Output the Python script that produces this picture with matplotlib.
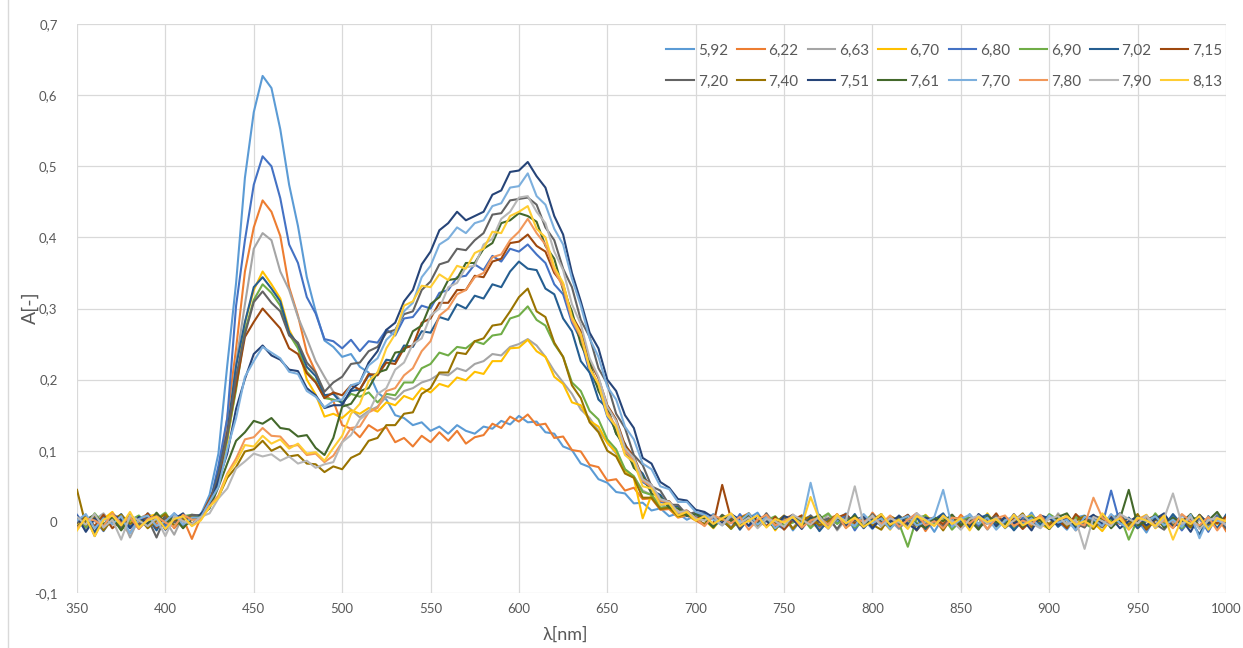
import numpy as np
import matplotlib.pyplot as plt
from matplotlib.ticker import FuncFormatter, MultipleLocator
from matplotlib.lines import Line2D

plt.rcParams['font.family'] = ['Lato', 'DejaVu Sans']

# wavelength grid (nm), one reading every 5 nm
wavelength = np.arange(350, 1001, 5)

# absorbance readings in milli-units (A * 1000)
# each list: 350-415 nm | 420-700 nm | 705-1000 nm
a592 = [4, -12, 8, -5, 10, -3, 6, -8, 12, 2, -6, 9, 3, 7,
        10, 38, 96, 220, 336, 484, 576, 627, 610, 552, 474, 416, 344, 296, 255, 246, 232, 236, 218, 210,
        182, 172, 150, 146, 136, 140, 128, 134, 124, 136, 128, 124, 134, 131, 142, 137, 149, 140, 141, 126,
        124, 106, 101, 82, 77, 60, 55, 42, 40, 26, 27, 16, 19, 8, 12, 3, 9,
        2, 11, -4, 6, -9, 5, 13, -6, 0, 8, -12, 4, -3, 9, -7, 2, 12, -5, 3, -10, 6, 1, -8, 10, -2, 5, -14, 7, 3, -6,
        11, -4, 0, 8, -9, 4, -2, 13, -7, 5, 1, -11, 6, 9, -3, -8, 4, 12, -5, 2, -15, 7, 3, -6, 10, -1, 5, -9, 8, 2]
a622 = [-8, 6, -14, 3, 9, -6, -15, 4, 11, -3, 7, -9, 5, -24,
        6, 28, 61, 146, 244, 352, 414, 452, 436, 402, 330, 290, 238, 211, 178, 170, 136, 131, 119, 136,
        128, 133, 112, 118, 106, 121, 112, 126, 114, 128, 110, 119, 122, 138, 132, 148, 141, 151, 136, 138,
        118, 120, 101, 99, 80, 77, 58, 60, 44, 48, 32, 33, 17, 18, 6, 9, 2,
        -5, 8, 3, -10, 6, 12, -3, 7, -8, 4, 10, -6, 1, -11, 5, 9, -4, 2, -7, 13, -2, 6, -9, 3, 8, -13, 4, 0, -6, 10,
        -3, 5, -10, 7, 2, -5, 11, -8, 3, 6, -4, 9, -12, 1, 7, -6, 3, -3, 5, -9, 4, 8, -7, 2, -11, 6, 3, -4, 9, -13]
a663 = [6, -10, 3, 12, -4, 8, -22, 5, 10, -7, 2, -18, 9, -3,
        9, 23, 63, 116, 224, 306, 384, 406, 396, 352, 326, 288, 258, 226, 204, 183, 168, 158, 147, 156,
        162, 176, 172, 184, 188, 196, 200, 208, 206, 216, 212, 222, 226, 236, 234, 246, 250, 257, 248, 232,
        212, 196, 180, 158, 146, 128, 112, 96, 74, 64, 44, 38, 24, 20, 10, 9, 3,
        7, -3, 10, -8, 4, 1, -6, 12, -2, 5, -9, 8, 3, -5, 11, -12, 4, 6, -3, 9, -7, 2, -10, 5, 8, -4, 1, -8, 10, -6,
        3, 7, -11, 4, -2, 9, -5, 0, 6, -9, 12, -3, 5, -7, 2, 8, -6, 4, -10, 1, 7, -4, 9, -2, 5, -8, 3, -5, 10, -3]
a670 = [-6, 9, -18, 4, 14, -5, 2, -9, 7, 11, -4, 6, -8, 3,
        7, 29, 52, 114, 190, 280, 326, 352, 334, 314, 270, 246, 200, 179, 148, 152, 146, 157, 152, 160,
        155, 168, 164, 177, 172, 188, 182, 194, 190, 203, 199, 211, 208, 226, 226, 244, 245, 256, 240, 232,
        204, 194, 168, 164, 142, 134, 111, 98, 72, 62, 5, 38, 19, 20, 7, 11, 2,
        3, -9, 6, 10, -4, 2, -7, 8, -12, 5, 1, 9, -6, 4, -3, 11, -8, 0, 7, -5, 3, -11, 8, 2, -6, 10, -2, 4, -9, 6,
        1, -7, 12, -4, 3, -8, 5, 9, -3, -10, 6, 2, -5, 8, -1, -13, 4, 7, -6, 3, 10, -9, 1, 5, -4, 8, -7, 2, -3, 6]
a680 = [10, -7, 3, -13, 6, -2, 9, -10, 4, 8, -5, 12, 1, -4,
        11, 24, 79, 146, 304, 396, 474, 514, 500, 455, 390, 364, 316, 293, 257, 254, 244, 256, 240, 254,
        252, 270, 262, 286, 288, 304, 300, 322, 326, 344, 346, 362, 354, 374, 366, 384, 380, 390, 376, 364,
        334, 320, 280, 256, 210, 188, 148, 130, 96, 82, 56, 48, 28, 25, 13, 14, 5,
        -4, 7, 2, -9, 11, -6, 3, 8, -3, -10, 5, 1, 9, -7, 4, -2, 10, -12, 6, 3, -5, 8, -8, 2, 12, -4, -1, 7, -9, 5,
        3, -6, 9, -3, 0, -11, 6, 4, -7, 10, -2, 5, -8, 1, 7, -5, 44, -2, -9, 2, -6, 3, -3, 8, -12, 4, 6, -14, 9, -5]
a690 = [5, -8, 12, -3, 7, -11, 2, 9, -5, 4, 13, -6, 8, 10,
        6, 27, 55, 118, 186, 268, 312, 334, 322, 304, 264, 244, 211, 198, 174, 172, 168, 180, 176, 182,
        168, 180, 178, 196, 196, 216, 222, 238, 234, 246, 244, 254, 250, 262, 264, 286, 290, 303, 284, 276,
        250, 232, 196, 184, 156, 144, 116, 102, 74, 64, 42, 38, 20, 21, 9, 11, 4,
        9, -4, 6, -10, 3, 11, -7, 2, 8, -5, -1, 7, -9, 4, 12, -3, 6, -8, 1, 10, -6, 3, -2, -35, 5, 9, -4, 7, -11, 2,
        6, -3, 10, -7, 4, -9, 1, 8, -5, 11, 3, -6, 7, -2, -10, 5, 2, 9, -25, 4, -7, 12, -3, 6, -9, 1, 8, -4, 3, -8]
a702 = [-10, 4, -15, 8, -2, 11, -7, 3, 6, -12, 9, 2, -5, 7,
        10, 26, 69, 126, 219, 281, 330, 344, 328, 310, 266, 250, 218, 205, 178, 180, 166, 184, 186, 206,
        208, 228, 226, 248, 246, 268, 266, 288, 284, 306, 300, 318, 314, 334, 330, 352, 366, 356, 354, 328,
        320, 286, 268, 226, 210, 172, 160, 124, 110, 80, 68, 44, 38, 20, 22, 8, 11,
        12, -6, 3, 9, -11, 5, -2, 8, -8, 1, 10, -4, 6, -13, 2, 7, -5, 11, -9, 4, 0, -7, 9, -3, 6, -10, 3, 12, -6, 1,
        -8, 5, 10, -4, 7, -12, 2, 6, -3, 9, -7, 4, -11, 8, 1, -5, 10, -2, 6, -9, 3, 7, -6, 11, -4, 2, -18, 8, -9, 10]
a715 = [3, 8, -6, 10, -9, 2, 7, -4, 12, -8, 5, 1, 9, -3,
        7, 32, 57, 124, 191, 260, 281, 300, 286, 272, 244, 236, 209, 196, 174, 182, 178, 192, 186, 208,
        206, 224, 222, 244, 248, 280, 286, 308, 308, 326, 326, 346, 344, 366, 370, 392, 394, 404, 388, 380,
        350, 334, 290, 268, 226, 202, 164, 144, 108, 92, 62, 52, 30, 29, 14, 16, 6,
        5, -3, 52, 4, -8, 10, 2, -6, 7, -11, 3, 9, -4, 1, -9, 6, 11, -2, 4, -7, 8, -5, 2, 10, -12, 3, 6, -4, 9, -8,
        0, 7, -3, 12, -6, 4, -10, 2, 8, -5, 3, -9, 11, -1, 5, -7, 9, 2, -4, 6, -11, 3, 8, -6, 1, 10, -8, 4, -2, 7]
a720 = [-2, 9, -20, 6, 3, -8, 11, -4, 5, -22, 8, -1, 4, 10,
        9, 26, 66, 121, 204, 264, 309, 324, 308, 296, 262, 252, 224, 210, 183, 196, 204, 222, 224, 240,
        246, 266, 270, 292, 296, 326, 338, 362, 366, 384, 382, 396, 406, 432, 434, 452, 454, 456, 446, 414,
        396, 356, 330, 284, 260, 216, 194, 152, 132, 94, 80, 50, 44, 24, 24, 10, 14,
        6, -4, 10, 1, -7, 8, -3, 12, -9, 4, 2, -6, 9, -1, 5, -10, 7, 3, -8, 11, -2, 4, -5, 9, -12, 6, 1, -7, 10, -3,
        5, -9, 2, 8, -6, 11, -4, 0, 7, -10, 3, 6, -2, -8, 9, 4, -5, 12, -7, 1, 8, -3, -11, 5, 2, -6, 10, -4, 7, -9]
a740 = [45, -5, 8, -12, 4, 10, -3, 6, -9, 2, 11, -6, 3, 7,
        4, 23, 35, 62, 77, 99, 102, 114, 100, 106, 92, 94, 82, 81, 70, 78, 74, 90, 96, 114,
        118, 136, 136, 152, 154, 180, 188, 210, 210, 238, 236, 254, 258, 276, 278, 296, 316, 328, 296, 288,
        252, 232, 192, 174, 140, 126, 100, 92, 68, 62, 34, 34, 18, 20, 8, 11, 3,
        -3, 8, 2, -9, 5, 11, -6, 3, -2, 9, -10, 4, 7, -5, 1, 10, -8, 3, 6, -4, -11, 8, 2, -6, 9, -1, 4, -12, 7, 3,
        -5, 10, -2, 6, -8, 1, 12, -7, 4, -3, 9, -6, 2, 8, -10, 5, -1, 7, -4, 11, -9, 3, 6, -5, 2, -8, 10, -3, 5, 1]
a751 = [8, -14, 5, -6, 11, 3, -9, 7, -2, 9, -11, 4, 12, -5,
        11, 22, 58, 96, 159, 201, 236, 248, 234, 228, 214, 212, 188, 178, 160, 164, 164, 186, 196, 224,
        240, 270, 280, 310, 326, 362, 380, 410, 420, 436, 424, 430, 436, 460, 466, 492, 494, 506, 486, 470,
        430, 404, 350, 310, 266, 244, 200, 184, 150, 132, 90, 82, 56, 48, 32, 30, 17,
        14, 6, -2, 11, 3, -5, 9, 1, -7, 8, 4, -10, 6, 2, -4, 10, -6, 3, 7, -9, 5, 0, 8, -3, -11, 6, 2, 9, -5, 4,
        -8, 11, 1, -6, 7, -2, 3, -12, 9, 5, -4, 8, -7, 2, 10, -3, 6, -9, 1, 7, -5, 4, 12, -8, 3, -14, 9, -2, 6, -6]
a761 = [-7, 3, 10, -4, 6, -12, 8, 2, -5, 13, -2, 7, -9, 5,
        8, 19, 49, 82, 114, 126, 142, 138, 146, 132, 130, 120, 122, 104, 94, 118, 162, 166, 184, 188,
        210, 214, 238, 240, 268, 276, 306, 316, 340, 342, 364, 364, 384, 392, 420, 424, 434, 430, 422, 388,
        370, 326, 296, 250, 224, 184, 162, 124, 106, 76, 64, 40, 35, 20, 19, 9, 11,
        4, -8, 9, 2, -5, 12, -3, 6, -10, 1, 8, -4, 3, 10, -7, 5, -1, 9, -6, 2, 11, -9, 4, 7, -3, -8, 6, 1, 10, -5,
        3, -11, 8, 0, -4, 9, -7, 5, 2, -10, 7, 12, -6, 3, -2, 8, -9, 4, 45, -5, 1, 9, -8, 6, -3, 11, -7, 2, 14, -4]
a770 = [2, 11, -9, 5, -3, 8, -16, 4, 9, -6, 1, 12, -4, 6,
        6, 28, 49, 102, 146, 204, 226, 246, 238, 230, 211, 208, 184, 176, 161, 170, 172, 192, 196, 220,
        230, 256, 268, 296, 308, 344, 360, 390, 398, 414, 406, 420, 424, 444, 448, 470, 472, 490, 458, 446,
        412, 390, 342, 304, 258, 232, 190, 172, 134, 116, 82, 74, 50, 46, 28, 28, 14,
        10, 3, -5, 8, 1, 12, -4, 7, -9, 2, 6, -3, 55, 4, -8, 9, 1, -6, 11, -2, 5, -10, 3, 8, -5, 0, 7, 45, -7, 4,
        10, -3, 6, -11, 2, 8, -4, 5, -8, 9, -1, 3, -12, 7, 4, -6, 11, -2, -9, 6, 1, 8, -5, 3, -7, 10, -23, 5, 2, -3]
a780 = [-9, 5, 2, -6, 12, -3, 7, -10, 4, 8, -1, -7, 10, 3,
        3, 22, 37, 68, 89, 116, 119, 132, 121, 120, 106, 108, 94, 96, 84, 93, 112, 132, 134, 154,
        160, 184, 188, 206, 216, 240, 254, 290, 300, 320, 326, 344, 350, 372, 376, 396, 408, 426, 406, 390,
        354, 330, 284, 260, 216, 194, 154, 134, 100, 86, 58, 49, 30, 27, 13, 15, 5,
        -6, 9, 4, -2, 7, -11, 3, 10, -5, 1, 8, -8, 2, 6, -4, 11, -9, 5, 0, 7, -3, 9, -7, 3, 12, -5, 1, -9, 6, 4,
        -2, 8, -10, 5, 9, -6, 2, -4, 10, -8, 3, 7, -1, -5, 34, 6, -3, 9, -11, 4, 8, -6, 2, -9, 11, 1, -5, 7, -12, 3]
a790 = [7, -4, 11, -8, 3, -25, 9, 2, -6, 5, -20, 8, 1, -3,
        7, 12, 33, 47, 75, 85, 96, 92, 95, 86, 92, 82, 86, 76, 81, 84, 112, 122, 144, 154,
        180, 188, 214, 224, 250, 258, 290, 300, 330, 336, 358, 360, 390, 398, 426, 436, 456, 458, 436, 420,
        380, 354, 306, 278, 230, 204, 162, 142, 104, 90, 60, 52, 32, 28, 14, 15, 5,
        2, 8, -5, 11, -2, 6, -9, 4, 1, -7, 10, 3, -4, 8, -10, 6, 2, 50, -3, 9, -6, 5, 0, -8, 12, 3, -5, 7, 1, -11,
        4, 9, -3, 6, -7, 2, 10, -2, -9, 5, 8, -4, 3, -38, 7, 1, -6, 11, 4, -2, 9, -8, 5, 40, -3, 7, -10, 2, 6, -5]
a813 = [-12, 6, -20, 3, 9, -5, 14, -8, 2, 7, -10, 4, 8, -6,
        2, 21, 34, 66, 84, 108, 106, 121, 110, 116, 103, 110, 96, 98, 86, 104, 121, 152, 166, 198,
        210, 244, 264, 304, 310, 332, 330, 348, 340, 360, 356, 378, 384, 408, 406, 430, 436, 444, 412, 400,
        358, 336, 288, 264, 216, 194, 150, 134, 94, 84, 50, 47, 24, 26, 9, 14, 2,
        8, -3, 5, 12, -6, 2, 9, -8, 4, -1, 7, -5, 35, 3, -9, 10, -2, 6, -7, 1, 11, -4, 3, -10, 8, 2, -6, 9, -3, 5,
        -12, 7, 0, 4, -8, 10, -5, 2, 6, -9, 3, 8, -4, 1, -7, 12, -2, 5, -10, 6, 2, -6, 9, -25, 4, -3, 8, -11, 5, 1]

ph_labels = ['5,92', '6,22', '6,63', '6,70', '6,80', '6,90', '7,02', '7,15',
             '7,20', '7,40', '7,51', '7,61', '7,70', '7,80', '7,90', '8,13']
series = [a592, a622, a663, a670, a680, a690, a702, a715,
          a720, a740, a751, a761, a770, a780, a790, a813]
colors = ['#5B9BD5', '#ED7D31', '#A5A5A5', '#FFC000', '#4472C4', '#70AD47', '#255E91', '#9E480E',
          '#636363', '#997300', '#264478', '#43682B', '#7CAFDD', '#F1975A', '#B7B7B7', '#FFCD33']

W, H = 1243, 648
fig = plt.figure(figsize=(W / 100, H / 100), dpi=100)
ax = fig.add_axes([77 / W, 1 - 593 / H, (1226 - 77) / W, (593 - 24) / H])

lines = []
for lab, col, vals in zip(ph_labels, colors, series):
    assert len(vals) == len(wavelength), lab
    ln, = ax.plot(wavelength, np.array(vals) / 1000, color=col, lw=1.5, label=lab)
    lines.append(ln)

ax.set_xlim(350, 1000)
ax.set_ylim(-0.1, 0.7)
ax.xaxis.set_major_locator(MultipleLocator(50))
ax.yaxis.set_major_locator(MultipleLocator(0.1))
ax.yaxis.set_major_formatter(FuncFormatter(lambda v, p: '0' if abs(v) < 1e-9 else f'{v:.1f}'.replace('.', ',')))
ax.set_axisbelow(True)
ax.grid(True, color='#D9D9D9', lw=0.9)
ax.axhline(0, color='#BFBFBF', lw=0.9, zorder=0.5)
for s in ax.spines.values():
    s.set_visible(False)
ax.tick_params(length=0, colors='#595959', labelsize=9.5)
ax.tick_params(axis='y', pad=14)
ax.tick_params(axis='x', pad=7)

# axis titles placed where the original has them
fig.text(30 / W, 1 - 308 / H, 'A[-]', rotation=90, fontsize=14, color='#595959', ha='center', va='center')
fig.text(565 / W, 1 - 635 / H, 'λ[nm]', fontsize=13, color='#595959', ha='center', va='center')

# legend: two rows of eight, filled row by row
order = [i for pair in zip(range(8), range(8, 16)) for i in pair]
ax.legend([lines[i] for i in order], [ph_labels[i] for i in order], ncol=8,
          loc='upper right', bbox_to_anchor=(1.002, 0.976), frameon=False, fontsize=11,
          handlelength=1.8, handletextpad=0.25, columnspacing=0.6, labelspacing=1.1,
          borderaxespad=0, labelcolor='#595959')

fig.add_artist(Line2D([8 / W, 8 / W], [0, 1], color='#D9D9D9', lw=1, transform=fig.transFigure))

fig.savefig('out.png', dpi=100)
